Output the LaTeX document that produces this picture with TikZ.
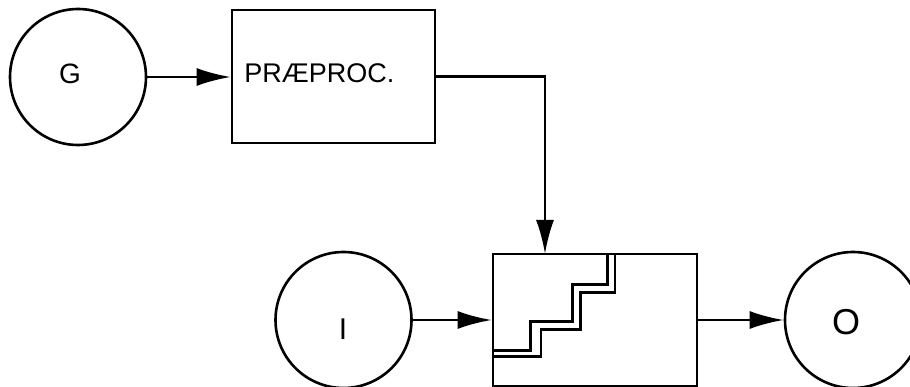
\documentclass[tikz,border=0pt]{standalone}
\usepackage{fontspec}
\setmainfont{Liberation Sans}
\usetikzlibrary{arrows.meta}
\begin{document}
\begin{tikzpicture}[x=1pt,y=-1pt,
  every path/.style={line width=2.6pt},
  circ/.style={draw,circle,minimum size=136pt,inner sep=0pt,line width=2.6pt},
  boxnode/.style={draw,rectangle,inner sep=0pt,line width=2.6pt},
  arr/.style={-{Latex[length=34pt,width=18pt]},line width=2.6pt},
  lbl/.style={inner sep=0pt}]
\useasboundingbox (0,0) rectangle (910,387);
\node[circ] (G) at (78,77) {};
\node[lbl,font=\fontsize{28}{28}\selectfont] (Gt) at (70,74) {G};
\node[boxnode,minimum width=203pt,minimum height=133pt] (pre) at (333.5,76.5) {};
\node[lbl,anchor=west,font=\fontsize{27}{27}\selectfont] (pret) at (243,73) {PRÆPROC.};
\node[circ] (I) at (343.5,320) {};
\node[lbl,font=\fontsize{30}{30}\selectfont] (It) at (343,329) {I};
\node[boxnode,minimum width=204pt,minimum height=132pt] (Q) at (595,320) {};
\node[circ] (O) at (853,320) {};
\node[lbl,font=\fontsize{36}{36}\selectfont] (Ot) at (846,322) {O};
\coordinate (down) at (545,254);
\draw[arr] (G.east) -- (pre.west |- G.east);
\draw[arr] (pre.east) -| (down);
\draw[arr] (I.east) -- (Q.west);
\draw[arr] (Q.east) -- (O.west);
\draw[line width=2.8pt] (493,350.7) -- (530.7,350.7) -- (530.7,321.7) -- (572.7,321.7) -- (572.7,284.3) -- (607.7,284.3) -- (607.7,254);
\draw[line width=2.8pt] (493,356.7) -- (541,356.7) -- (541,329.3) -- (580.7,329.3) -- (580.7,292.7) -- (615,292.7) -- (615,254);
\end{tikzpicture}
\end{document}
